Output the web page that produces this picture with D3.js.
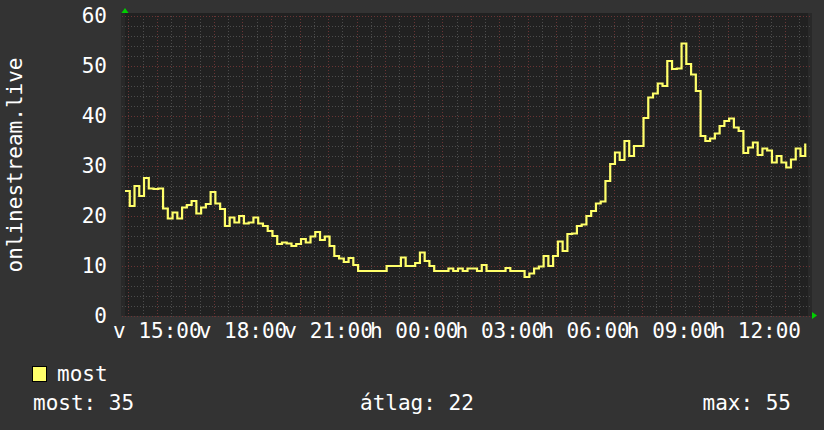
<!DOCTYPE html>
<html>
<head>
<meta charset="utf-8">
<script src="https://cdn.jsdelivr.net/npm/d3@7"></script>
<style>
  html, body { margin: 0; padding: 0; background: #333333; }
  svg { display: block; }
  text { font-family: "DejaVu Sans Mono", monospace; font-size: 21px; fill: #ffffff; }
</style>
</head>
<body>
<svg id="chart" width="824" height="430"></svg>
<script>
// readings every 10 minutes, starting Sunday 13:53
const startTime = new Date(2023, 0, 1, 13, 53);
const stepMinutes = 10;
const mostValues = [
  25, 22, 26, 24, 27.6, 25.5, 25.4, 25.5, 21.5, 19.5,
  20.7, 19.5, 21.7, 22.2, 23, 20.5, 21.7, 22.4, 24.8, 22.5,
  21.4, 18, 19.7, 18.7, 20, 18.5, 18.7, 19.7, 18.5, 18,
  17, 16, 14.4, 14.7, 14.5, 14, 14.4, 15.4, 14.7, 15.9,
  16.8, 15.2, 15.9, 14, 12, 11.5, 10.8, 11.6, 10.2, 9,
  9, 9, 9, 9, 9, 10, 10, 10, 11.7, 10,
  10, 10.6, 12.7, 11, 10, 9, 9, 9, 9.5, 9,
  9.5, 9, 9.5, 9.5, 9, 10.2, 9, 9, 9, 9,
  9.6, 9, 9, 9, 7.8, 8.5, 9.5, 9.9, 12, 10,
  12, 14.9, 13, 16.4, 16.5, 18, 18.3, 20, 21, 22.5,
  22.9, 27, 30.4, 32.7, 31.2, 35, 32, 34, 34, 39.6,
  43.7, 44.5, 46.5, 46, 51, 49.4, 49.5, 54.5, 50.4, 48.3,
  45, 36, 35, 35.5, 36.5, 38, 39, 39.5, 37.7, 37,
  32.6, 33.7, 34.7, 32.2, 33.5, 33.1, 30.7, 32, 30.7, 29.7,
  31.3, 33.5, 32, 34.5
];
const yTickValues = [0, 10, 20, 30, 40, 50, 60];
const dayNames = ["v", "h", "k", "sze", "cs", "p", "szo"];
const axisTitle = "onlinestream.live";
const legendName = "most";
const legendStats = ["most: 35", "átlag: 22", "max: 55"];

const lineColor = "#ffff6a";
const plot = { left: 125, right: 810, top: 16, bottom: 316 };

const data = mostValues.map((v, i) => ({
  t: new Date(startTime.getTime() + i * stepMinutes * 60000),
  v: v
}));

const svg = d3.select("#chart");

const x = d3.scaleTime()
  .domain([startTime, new Date(startTime.getTime() + 24 * 3600000)])
  .range([plot.left, plot.right]);

const y = d3.scaleLinear()
  .domain([0, 60])
  .range([plot.bottom, plot.top]);

const crisp = v => Math.round(v) + 0.5;

// canvas
svg.append("rect")
  .attr("x", plot.left - 4).attr("y", plot.top - 3)
  .attr("width", plot.right - plot.left + 6).attr("height", plot.bottom - plot.top + 3)
  .attr("fill", "#292929");
svg.append("rect")
  .attr("x", plot.left).attr("y", plot.top - 3)
  .attr("width", plot.right - plot.left - 2).attr("height", plot.bottom - plot.top + 3)
  .attr("fill", "#212121");

// grid
const minorColor = "#4c4c4c";
const majorColor = "#6a3434";
const grid = svg.append("g");
const minorY = d3.range(0, 61, 2).filter(v => v % 10 !== 0);
grid.selectAll(".hminor").data(minorY).enter().append("line")
  .attr("x1", plot.left - 3).attr("x2", plot.right)
  .attr("y1", d => crisp(y(d))).attr("y2", d => crisp(y(d)))
  .attr("stroke", minorColor).attr("stroke-dasharray", "1,2");

const minorX = d3.timeMinute.every(30).range(x.domain()[0], x.domain()[1])
  .filter(d => d.getMinutes() !== 0);
grid.selectAll(".vminor").data(minorX).enter().append("line")
  .attr("x1", d => crisp(x(d))).attr("x2", d => crisp(x(d)))
  .attr("y1", plot.top).attr("y2", plot.bottom + 3)
  .attr("stroke", minorColor).attr("stroke-dasharray", "1,2");

grid.selectAll(".hmajor").data(yTickValues).enter().append("line")
  .attr("x1", plot.left - 3).attr("x2", plot.right)
  .attr("y1", d => crisp(y(d))).attr("y2", d => crisp(y(d)))
  .attr("stroke", majorColor).attr("stroke-dasharray", "1,2");

const majorX = d3.timeHour.every(1).range(x.domain()[0], x.domain()[1]);
grid.selectAll(".vmajor").data(majorX).enter().append("line")
  .attr("x1", d => crisp(x(d))).attr("x2", d => crisp(x(d)))
  .attr("y1", plot.top).attr("y2", plot.bottom + 3)
  .attr("stroke", majorColor).attr("stroke-dasharray", "1,2");

// series
const line = d3.line()
  .x(d => x(d.t))
  .y(d => y(d.v))
  .curve(d3.curveStepAfter);

svg.append("path")
  .datum(data)
  .attr("d", line)
  .attr("fill", "none")
  .attr("stroke", lineColor)
  .attr("stroke-width", 2.2);

// axes
const yAxis = svg.append("g")
  .attr("transform", `translate(${plot.left},0)`)
  .call(d3.axisLeft(y).tickValues(yTickValues).tickSize(0).tickPadding(18));
yAxis.select(".domain").remove();
yAxis.selectAll("text").attr("font-family", null).attr("font-size", null);

const labelTimes = d3.timeHour.every(3).range(x.domain()[0], x.domain()[1]);
const xAxis = svg.append("g")
  .attr("transform", `translate(0,${plot.bottom})`)
  .call(d3.axisBottom(x).tickValues(labelTimes).tickSize(0).tickPadding(7)
    .tickFormat(d => dayNames[d.getDay()] + " " + d3.timeFormat("%H:%M")(d)));
xAxis.select(".domain").remove();
xAxis.selectAll("text").attr("font-family", null).attr("font-size", null);

// arrows
svg.append("path")
  .attr("d", `M${plot.left - 3.5},13 L${plot.left + 3.5},13 L${plot.left},8 Z`)
  .attr("fill", "#00d000");
svg.append("path")
  .attr("d", `M${plot.right + 2},${plot.bottom - 4} L${plot.right + 2},${plot.bottom + 3} L${plot.right + 7},${plot.bottom - 0.5} Z`)
  .attr("fill", "#00d000");

// vertical title
svg.append("text")
  .attr("transform", "translate(22,165) rotate(-90)")
  .attr("text-anchor", "middle")
  .text(axisTitle);

// legend
svg.append("rect")
  .attr("x", 32.5).attr("y", 366.5)
  .attr("width", 14).attr("height", 15)
  .attr("fill", lineColor).attr("stroke", "#000");
svg.append("text").attr("x", 57).attr("y", 381).text(legendName);

svg.append("text").attr("x", 33).attr("y", 410).text(legendStats[0]);
svg.append("text").attr("x", 360).attr("y", 410).text(legendStats[1]);
svg.append("text").attr("x", 791).attr("y", 410).attr("text-anchor", "end").text(legendStats[2]);
</script>
</body>
</html>
